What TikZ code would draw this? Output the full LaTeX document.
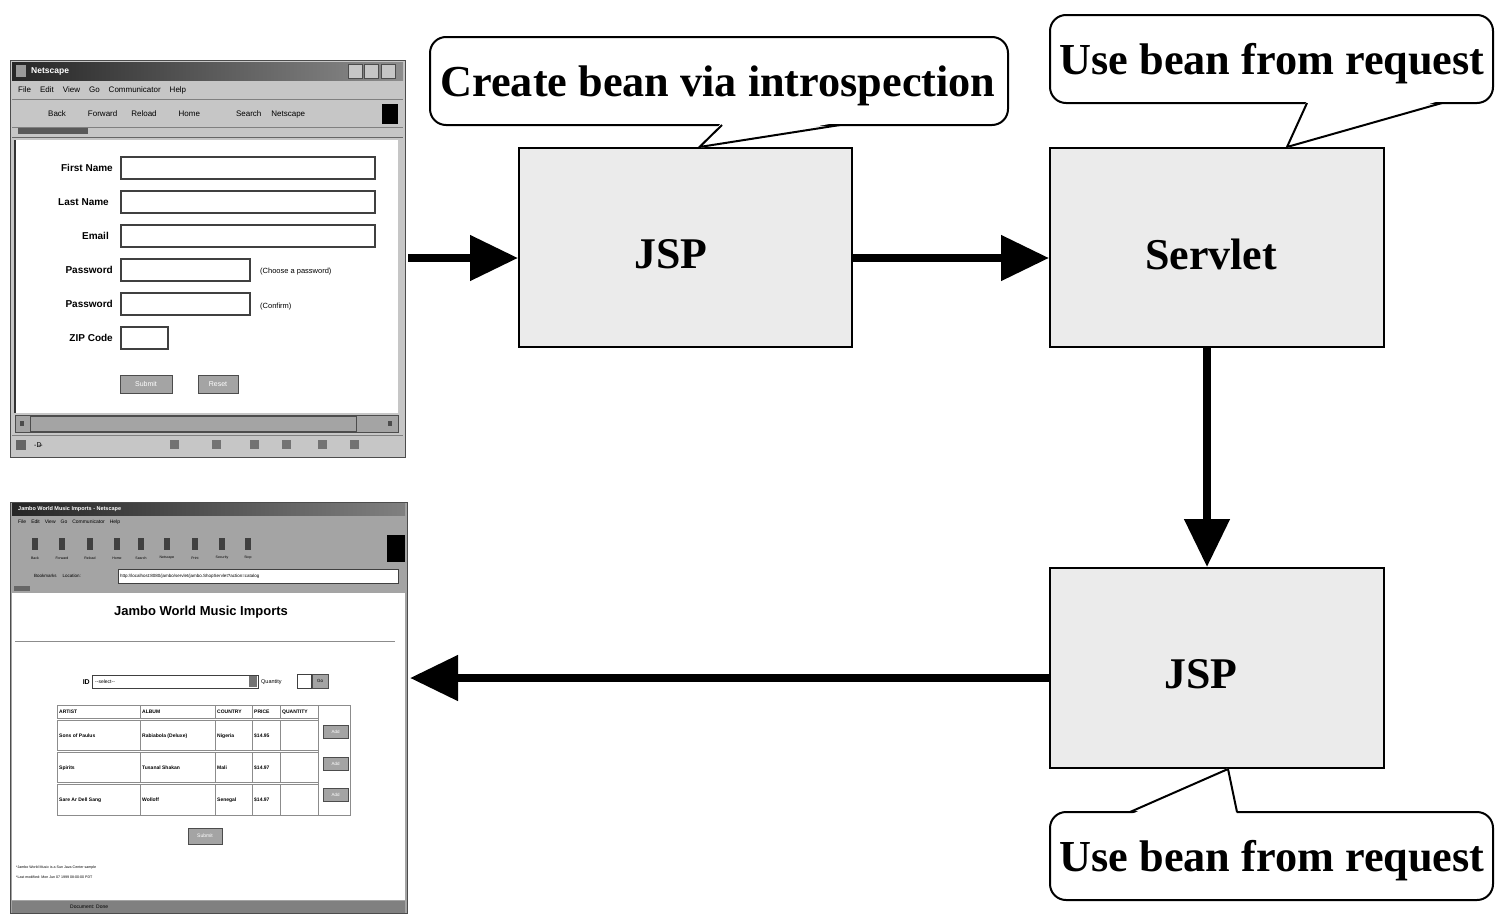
\documentclass[tikz,border=0pt]{standalone}
\usepackage{fontspec}
\setmainfont{Liberation Serif}
\newfontfamily\uifont{Liberation Sans}
\usepackage{graphicx}
\usetikzlibrary{arrows.meta}

\definecolor{boxgray}{HTML}{EBEBEB}
\definecolor{wingray}{HTML}{C6C6C6}
\definecolor{bargray}{HTML}{A4A4A4}
\definecolor{darkbar}{HTML}{262626}

\begin{document}
\begin{tikzpicture}[x=1pt,y=-1pt,
  flowbox/.style={draw=black, line width=2pt, fill=boxgray, inner sep=0pt},
  flowarrow/.style={line width=8pt, -{Triangle[length=48pt,width=44pt]}},
  callout/.style={draw=black, line width=2pt, fill=white, rounded corners=16pt, inner sep=0pt},
  tail/.style={draw=black, line width=2pt},
  bigtext/.style={inner sep=0pt},
  uitext/.style={font=\uifont\fontsize{#1}{#1}\selectfont, inner sep=0pt},
  uibold/.style={font=\uifont\bfseries\fontsize{#1}{#1}\selectfont, inner sep=0pt},
  field/.style={draw=black!75, line width=1.4pt, fill=white},
  button/.style={draw=black!70, line width=1pt, fill=bargray},
  cell/.style={draw=black!45, line width=0.8pt, fill=white}]

\useasboundingbox (0,0) rectangle (1495,913);
\fill[white] (0,0) rectangle (1495,913);

% ---------------- registration form window ----------------
\fill[wingray] (10,60) rectangle (405,457);
\draw[black!70, line width=1pt] (10,60) rectangle (405,457);
\shade[left color=darkbar, right color=black!45] (12,62) rectangle (403,80);
\fill[black!40] (16,65) rectangle (26,77);
\node[uibold=8.5, white, anchor=west] (formTitle) at (31,71) {Netscape};
\foreach \bx in {348,364,381}{\draw[button, fill=wingray] (\bx,64) rectangle ++(14,14);}
\node[uitext=8, anchor=west] (formMenu) at (18,90)
  {File\hspace{9pt}Edit\hspace{9pt}View\hspace{9pt}Go\hspace{9pt}Communicator\hspace{9pt}Help};
\draw[black!50] (12,99) -- (403,99);
\node[uitext=8, anchor=west] (formTools) at (48,114)
  {Back\hspace{22pt}Forward\hspace{14pt}Reload\hspace{22pt}Home\hspace{36pt}Search\hspace{10pt}Netscape};
\fill[black] (382,104) rectangle (398,124);
\draw[black!50] (12,127) -- (403,127);
\fill[black!65] (18,128) rectangle (88,134);
\draw[black!60, line width=1pt] (12,137) -- (403,137);
% page area
\fill[white] (15,140) rectangle (398,413);
\draw[black!80, line width=2pt] (15,140) -- (15,413);
\node[uibold=10, anchor=east] (lblFirst) at (113,168) {First Name};
\node[uibold=10, anchor=east] (lblLast) at (109,202) {Last Name};
\node[uibold=10, anchor=east] (lblEmail) at (109,236) {Email};
\node[uibold=10, anchor=east] (lblPass) at (113,270) {Password};
\node[uibold=10, anchor=east] (lblConf) at (113,304) {Password};
\node[uibold=10, anchor=east] (lblZip) at (113,338) {ZIP Code};
\draw[field] (121,157) rectangle (375,179);
\draw[field] (121,191) rectangle (375,213);
\draw[field] (121,225) rectangle (375,247);
\draw[field] (121,259) rectangle (250,281);
\draw[field] (121,293) rectangle (250,315);
\draw[field] (121,327) rectangle (168,349);
\node[uitext=7.5, anchor=west] (hintPass) at (260,272) {(Choose a password)};
\node[uitext=7.5, anchor=west] (hintConf) at (260,307) {(Confirm)};
\draw[button] (120,375) rectangle (172,393);
\node[uitext=7, white] (btnSubmit) at (146,384) {Submit};
\draw[button] (198,375) rectangle (238,393);
\node[uitext=7, white] (btnReset) at (218,384) {Reset};
% scroll and status bars
\fill[bargray] (15,415) rectangle (398,432);
\draw[black!70] (15,415) rectangle (398,432);
\draw[black!70] (30,416) rectangle (356,431);
\fill[black!70] (20,421) rectangle (24,426);
\fill[black!70] (388,421) rectangle (392,426);
\draw[black!50] (12,435) -- (403,435);
\fill[black!60] (16,440) rectangle (26,450);
\node[uitext=7, anchor=west] (formStatus) at (34,445) {-D\!\!\!--};
\foreach \sx in {170,212,250,282,318,350}{\fill[black!55] (\sx,440) rectangle ++(9,9);}
\coordinate (formOut) at (408,258);

% ---------------- catalogue result window ----------------
\fill[bargray] (10,502) rectangle (407,913);
\draw[black!70, line width=1pt] (10,502) rectangle (407,913);
\shade[left color=darkbar, right color=black!50] (12,503) rectangle (405,515);
\node[uibold=5.5, white, anchor=west] (shopTitle) at (18,509) {Jambo World Music Imports - Netscape};
\node[uitext=5, anchor=west] (shopMenu) at (18,522)
  {File\hspace{5pt}Edit\hspace{5pt}View\hspace{5pt}Go\hspace{5pt}Communicator\hspace{5pt}Help};
\foreach \ix/\lab in {35/Back,62/Forward,90/Reload,117/Home,141/Search,167/Netscape,195/Print,222/Security,248/Stop}{
  \fill[black!75] (\ix-3,538) rectangle (\ix+3,550);
  \node[uitext=3.5] (tool\lab) at (\ix,558) {\lab};
}
\fill[black] (387,535) rectangle (405,562);
\node[uitext=4.5, anchor=west] (shopBook) at (34,576) {Bookmarks\hspace{6pt}Location:};
\draw[field, line width=0.8pt] (118,569) rectangle (398,583);
\node[uitext=4.5, anchor=west] (shopUrl) at (120,576) {http://localhost:8080/jambo/servlet/jambo.ShopServlet?action=catalog};
\fill[black!60] (14,586) rectangle (30,591);
% page area
\fill[white] (12,593) rectangle (405,900);
\node[uibold=13] (shopHead) at (201,612) {Jambo World Music Imports};
\draw[black!45, line width=1pt] (15,641) -- (395,641);
\node[uibold=7, anchor=east] (lblId) at (90,682) {ID};
\draw[field, line width=0.8pt] (92,675) rectangle (258,688);
\node[uitext=5, anchor=west] (idValue) at (95,682) {--select--};
\fill[black!55] (249,676) rectangle (257,687);
\node[uitext=5.5, anchor=west] (lblQty) at (261,682) {Quantity};
\draw[field, line width=0.8pt] (297,674) rectangle (311,688);
\draw[button] (312,674) rectangle (328,688);
\node[uitext=4.5] (btnGo) at (320,681) {Go};
% catalogue table
\foreach \xa/\xb in {57/140,140/215,215/252,252/280,280/318}{
  \foreach \ya/\yb in {705/718,720/750,752/782,784/815}{
    \draw[cell] (\xa,\ya) rectangle (\xb,\yb);
  }
}
\draw[black!45, line width=0.8pt] (318,705) rectangle (350,815);
\node[uibold=5, anchor=west] (hArtist) at (59,712) {ARTIST};
\node[uibold=5, anchor=west] (hAlbum) at (142,712) {ALBUM};
\node[uibold=5, anchor=west] (hCountry) at (217,712) {COUNTRY};
\node[uibold=5, anchor=west] (hPrice) at (254,712) {PRICE};
\node[uibold=5, anchor=west] (hQty) at (282,712) {QUANTITY};
\node[uibold=5, anchor=west] (r1a) at (59,736) {Sons of Paulus};
\node[uibold=5, anchor=west] (r1b) at (142,736) {Rabiabola (Deluxe)};
\node[uibold=5, anchor=west] (r1c) at (217,736) {Nigeria};
\node[uibold=5, anchor=west] (r1d) at (254,736) {\$14.95};
\node[uibold=5, anchor=west] (r2a) at (59,768) {Spirits};
\node[uibold=5, anchor=west] (r2b) at (142,768) {Tusanal Shakan};
\node[uibold=5, anchor=west] (r2c) at (217,768) {Mali};
\node[uibold=5, anchor=west] (r2d) at (254,768) {\$14.97};
\node[uibold=5, anchor=west] (r3a) at (59,800) {Sare Ar Dell Sang};
\node[uibold=5, anchor=west] (r3b) at (142,800) {Wolloff};
\node[uibold=5, anchor=west] (r3c) at (217,800) {Senegal};
\node[uibold=5, anchor=west] (r3d) at (254,800) {\$14.97};
\foreach \by/\bn in {725/addA,757/addB,788/addC}{
  \draw[button] (323,\by) rectangle (348,\by+13);
  \node[uitext=4.5, white] (\bn) at (335.5,\by+6.5) {Add};
}
\draw[button] (188,828) rectangle (222,844);
\node[uitext=5, white] (btnOrder) at (205,836) {Submit};
\node[uitext=3.6, anchor=west] (footA) at (16,868) {*Jambo World Music is a Sun Java Center sample};
\node[uitext=3.6, anchor=west] (footB) at (16,877) {*Last modified: Mon Jun 07 1999 08:00:00 PDT};
\fill[black!50] (12,901) rectangle (405,913);
\node[uitext=5, anchor=west] (shopStatus) at (70,907) {Document: Done};
\coordinate (shopIn) at (410,678);

% ---------------- flow boxes ----------------
\node[flowbox, minimum width=333pt, minimum height=199pt] (jspA) at (685.5,247.5) {};
\node[flowbox, minimum width=334pt, minimum height=199pt] (servlet) at (1217,247.5) {};
\node[flowbox, minimum width=334pt, minimum height=200pt] (jspB) at (1217,668) {};
\node[bigtext] (jspAtext) at (671,254) {\resizebox{73pt}{!}{\bfseries JSP}};
\node[bigtext] (servlettext) at (1211,254) {\resizebox{132pt}{!}{\bfseries Servlet}};
\node[bigtext] (jspBtext) at (1201,674) {\resizebox{73pt}{!}{\bfseries JSP}};

% ---------------- connectors ----------------
\draw[flowarrow] (formOut) -- (formOut -| jspA.west);
\draw[flowarrow] (jspA.east |- formOut) -- (servlet.west |- formOut);
\draw[flowarrow] ([xshift=-10pt]servlet.south) -- ([xshift=-10pt]jspB.north);
\draw[flowarrow] (jspB.west |- shopIn) -- (shopIn);

% ---------------- callouts ----------------
\node[callout, minimum width=578pt, minimum height=88pt] (noteA) at (719,81) {};
\node[bigtext] (noteAtext) at (718,86) {\resizebox{555pt}{!}{\bfseries Create bean via introspection}};
\fill[white] (722,122) -- (840,122) -- ([xshift=14pt,yshift=-1pt]jspA.north) -- cycle;
\draw[tail] (722,125) -- ([xshift=14pt]jspA.north) -- (840,125);

\node[callout, minimum width=443pt, minimum height=88pt] (noteB) at (1271.5,59) {};
\node[bigtext] (noteBtext) at (1272,64) {\resizebox{425pt}{!}{\bfseries Use bean from request}};
\fill[white] (1307,100) -- (1442,100) -- ([xshift=70pt,yshift=-1pt]servlet.north) -- cycle;
\draw[tail] (1307,103) -- ([xshift=70pt]servlet.north) -- (1442,103);

\node[callout, minimum width=443pt, minimum height=88pt] (noteC) at (1271.5,856) {};
\node[bigtext] (noteCtext) at (1272,861) {\resizebox{425pt}{!}{\bfseries Use bean from request}};
\fill[white] (1130,815) -- (1237,815) -- ([xshift=11pt,yshift=1pt]jspB.south) -- cycle;
\draw[tail] (1130,812) -- ([xshift=11pt]jspB.south) -- (1237,812);

\end{tikzpicture}
\end{document}
